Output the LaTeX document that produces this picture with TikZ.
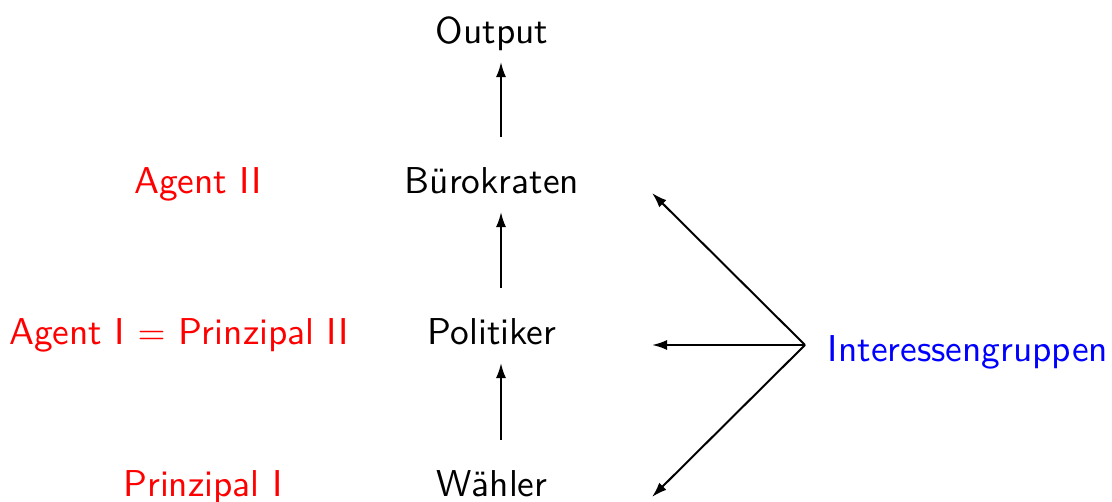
\documentclass[tikz,border=0pt]{standalone}
\usetikzlibrary{arrows.meta}
\begin{document}
\begin{tikzpicture}[x=0.278pt, y=-0.278pt,
  every node/.style={font=\sffamily\fontsize{10.4}{12}\selectfont, inner sep=0pt, anchor=base},
  role/.style={text=red},
  actor/.style={text=black},
  group/.style={text=blue},
  link/.style={-{Latex[length=4.2pt,width=2.8pt]}, line width=0.55pt}]
  \useasboundingbox (0,0) rectangle (1112,502);

  % hierarchy in the middle column (positions are baselines)
  \node[actor] (out)  at (492,44)  {Output};
  \node[actor] (bur)  at (492,194) {Bürokraten};
  \node[actor] (pol)  at (492,345) {Politiker};
  \node[actor] (wae)  at (492,497) {Wähler};

  % roles on the left
  \node[role] (ag2) at (198,194) {Agent II};
  \node[role] (ag1) at (179,345) {Agent I $=$ Prinzipal II};
  \node[role] (pr1) at (203,497) {Prinzipal I};

  % lobby on the right
  \node[group] (ig) at (968,362) {Interessengruppen};

  % arrow ends
  \coordinate (w0) at (501,440); \coordinate (w1) at (501,363);
  \coordinate (p0) at (501,288); \coordinate (p1) at (501,212);
  \coordinate (b0) at (501,137); \coordinate (b1) at (501,62);
  \coordinate (hub) at (805,345);
  \coordinate (tb) at (652,193);
  \coordinate (tp) at (652,345);
  \coordinate (tw) at (652,497);

  \draw[link] (w0) -- (w1);
  \draw[link] (p0) -- (p1);
  \draw[link] (b0) -- (b1);
  \draw[link] (hub) -- (tb);
  \draw[link] (hub) -- (tp);
  \draw[link] (hub) -- (tw);
\end{tikzpicture}
\end{document}
